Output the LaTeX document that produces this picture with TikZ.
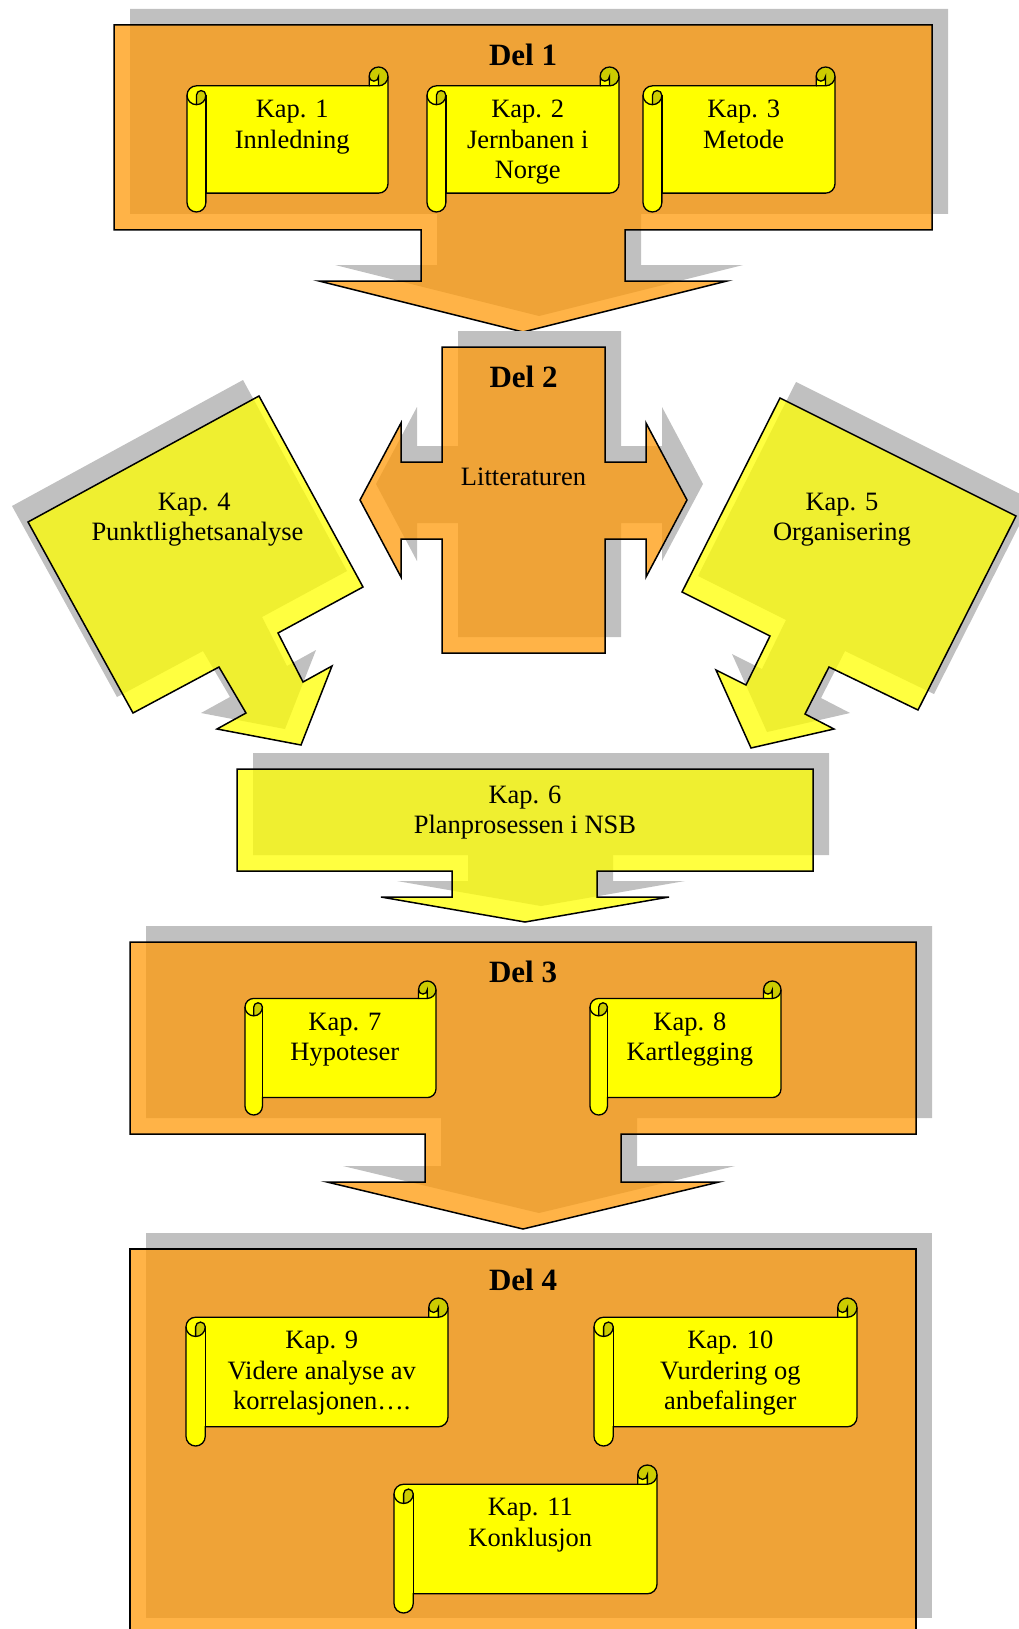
\documentclass[tikz,border=0pt]{standalone}
\usepackage{fontspec}
\setmainfont{Liberation Serif}
\definecolor{shadowgray}{RGB}{192,192,192}
\definecolor{blockorange}{RGB}{255,154,10}
\definecolor{blockyellow}{RGB}{255,255,0}
\definecolor{scrollyellow}{RGB}{255,255,0}
\definecolor{curlyellow}{RGB}{204,204,0}
\tikzset{
  orangeblock/.style={fill=blockorange, fill opacity=0.75, draw=black, line width=1.5pt, line join=miter},
  yellowblock/.style={fill=blockyellow, fill opacity=0.75, draw=black, line width=1.5pt, line join=miter},
  scrollline/.style={draw=black, line width=1.3pt},
  kaptext/.style={font=\fontsize{26.5}{30.5}\selectfont, align=center, inner sep=0pt, text=black},
  deltext/.style={font=\fontsize{31}{36}\selectfont\bfseries, inner sep=0pt, anchor=base},
}
\newcommand\fl{\rule{0pt}{22pt}}
\newcommand\blockwithshadow[3]{%
  \fill[shadowgray, shift={#1}] #3;
  \filldraw[#2] #3;}
\newcommand\kapscroll[6]{%
 \begin{scope}[shift={(#2,#3)}]
  \pgfmathsetmacro\scrW{#4-#2}%
  \pgfmathsetmacro\scrH{#5-#3}%
  \pgfmathsetmacro\scrC{0.13*\scrH}%
  \pgfmathsetmacro\scrCh{\scrC/2}%
  \pgfmathsetmacro\scrCq{\scrC/4}%
  \fill[scrollyellow] (0,1.5*\scrC) arc[start angle=180,delta angle=90,radius=\scrCh] -- (\scrW-\scrC,\scrC) -- (\scrW-\scrC,\scrCh) arc[start angle=180,delta angle=180,radius=\scrCh] -- (\scrW,\scrH-1.5*\scrC) arc[start angle=0,delta angle=90,radius=\scrCh] -- (\scrC,\scrH-\scrC) -- (\scrC,\scrH-\scrCh) arc[start angle=0,delta angle=180,radius=\scrCh] -- cycle;
  \fill[curlyellow] (\scrCh,2*\scrC) arc[start angle=90,delta angle=-90,radius=\scrCh] arc[start angle=0,delta angle=-180,radius=\scrCq] -- cycle;
  \fill[curlyellow] (\scrW-\scrCh,\scrC) arc[start angle=90,delta angle=-270,radius=\scrCh] arc[start angle=180,delta angle=-180,radius=\scrCq] -- cycle;
  \draw[scrollline] (0,1.5*\scrC) arc[start angle=180,delta angle=90,radius=\scrCh] -- (\scrW-\scrC,\scrC) -- (\scrW-\scrC,\scrCh) arc[start angle=180,delta angle=180,radius=\scrCh] -- (\scrW,\scrH-1.5*\scrC) arc[start angle=0,delta angle=90,radius=\scrCh] -- (\scrC,\scrH-\scrC) -- (\scrC,\scrH-\scrCh) arc[start angle=0,delta angle=180,radius=\scrCh] -- cycle;
  \draw[scrollline] (\scrW-\scrC,\scrC) -- (\scrW-\scrCh,\scrC) arc[start angle=90,delta angle=-90,radius=\scrCh];
  \draw[scrollline] (\scrW-\scrCh,\scrC) -- (\scrW-\scrCh,\scrCh) arc[start angle=0,delta angle=180,radius=\scrCq];
  \draw[scrollline] (\scrCh,2*\scrC) -- (\scrCh,1.5*\scrC) arc[start angle=180,delta angle=180,radius=\scrCq] arc[start angle=0,delta angle=180,radius=\scrCh];
  \draw[scrollline] (\scrC,1.5*\scrC) -- (\scrC,\scrH-\scrC);
  \node[kaptext, anchor=north] (#1) at (\scrW/2+\scrC/4, \scrC+9.5) {\fl #6};
 \end{scope}}
\begin{document}
\begin{tikzpicture}[x=1pt,y=-1pt]
\useasboundingbox (0,0) rectangle (1019,1629);
\clip (0,0) rectangle (1019,1629);
\fill[white] (0,0) rectangle (1019,1629);
% Del 1
\blockwithshadow{(16,-16)}{orangeblock}{(114,25) -- (932,25) -- (932,230) -- (625,230) -- (625,281) -- (727,281) -- (523,332) -- (319,281) -- (421,281) -- (421,230) -- (114,230) -- cycle}
% Del 2
\blockwithshadow{(16,-16)}{orangeblock}{(442,347) -- (605,347) -- (605,462) -- (646,462) -- (646,423) -- (687,500) -- (646,577) -- (646,539) -- (605,539) -- (605,653) -- (442,653) -- (442,539) -- (401,539) -- (401,577) -- (360,500) -- (401,423) -- (401,462) -- (442,462) -- cycle}
% Kap 4
\blockwithshadow{(-16,-16)}{yellowblock}{(28,522) -- (259,396) -- (363,587) -- (278,633) -- (303,682) -- (332,666) -- (301,745) -- (217,729) -- (246,713) -- (219,667) -- (133,713) -- cycle}
% Kap 5
\blockwithshadow{(16,-16)}{yellowblock}{(780,398) -- (1016,516) -- (918,710) -- (829,667) -- (805,714) -- (834,729) -- (751,748) -- (716,670) -- (746,685) -- (770,636) -- (682,592) -- cycle}
% Kap 6
\blockwithshadow{(16,-16)}{yellowblock}{(237,769) -- (813,769) -- (813,871) -- (597,871) -- (597,897) -- (669,897) -- (525,922) -- (381,897) -- (452,897) -- (452,871) -- (237,871) -- cycle}
% Del 3
\blockwithshadow{(16,-16)}{orangeblock}{(130,942) -- (916,942) -- (916,1134) -- (621,1134) -- (621,1182) -- (719,1182) -- (523,1229) -- (327,1182) -- (425,1182) -- (425,1134) -- (130,1134) -- cycle}
% Del 4
\blockwithshadow{(16,-16)}{orangeblock}{(130,1249) -- (916,1249) -- (916,1634) -- (130,1634) -- cycle}
% texts
\node[deltext] (del1) at (523,66) {Del 1};
\node[deltext] (del2) at (523.5,387) {Del 2};
\node[kaptext, anchor=north] (litt) at (523.5,463) {\fl Litteraturen};
\node[kaptext, anchor=north] (kap4) at (197.5,488) {\fl Kap. 4\hspace*{6.6pt}\\Punktlighetsanalyse};
\node[kaptext, anchor=north] (kap5) at (842,488) {\fl Kap. 5\\Organisering};
\node[kaptext, anchor=north] (kap6) at (525,781) {\fl Kap. 6\\Planprosessen i NSB};
\node[deltext] (del3) at (523,982) {Del 3};
\node[deltext] (del4) at (523,1290) {Del 4};
% scrolls
\kapscroll{kap1}{187}{67}{388}{212}{Kap. 1\\Innledning}
\kapscroll{kap2}{427}{67}{619}{212}{Kap. 2\\Jernbanen i\\Norge}
\kapscroll{kap3}{643}{67}{835}{212}{Kap. 3\\Metode}
\kapscroll{kap7}{245}{981}{436}{1115}{Kap. 7\\Hypoteser}
\kapscroll{kap8}{590}{981}{781}{1115}{Kap. 8\\Kartlegging}
\kapscroll{kap9}{186}{1298}{448}{1446}{Kap. 9\\Videre analyse av\\korrelasjonen….}
\kapscroll{kap10}{594}{1298}{857}{1446}{Kap. 10\\Vurdering og\\anbefalinger}
\kapscroll{kap11}{394}{1465}{657}{1613}{Kap. 11\\Konklusjon}
\end{tikzpicture}
\end{document}
